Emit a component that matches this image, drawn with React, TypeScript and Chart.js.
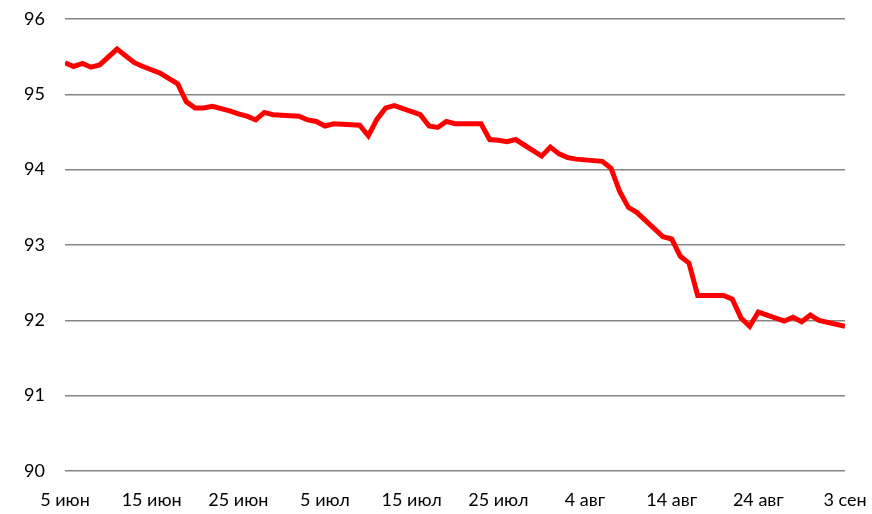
import React, { useEffect, useRef } from "react";
import { Chart, registerables } from "chart.js";

Chart.register(...registerables);

// Day offsets from 5 June
const days = [
  0, 1, 2, 3, 4, 6, 8, 9, 11, 13, 14, 15, 16, 17, 19, 20, 21, 22, 23, 24, 27, 28,
  29, 30, 31, 34, 35, 36, 37, 38, 41, 42, 43, 44, 45, 48, 49, 50, 51, 52, 55, 56,
  57, 58, 59, 62, 63, 64, 65, 66, 69, 70, 71, 72, 73, 76, 77, 78, 79, 80, 83, 84,
  85, 86, 87, 90,
];
const values = [
  95.42, 95.37, 95.41, 95.36, 95.39, 95.6, 95.42, 95.37, 95.28, 95.14, 94.9, 94.82,
  94.82, 94.84, 94.78, 94.74, 94.71, 94.66, 94.76, 94.73, 94.71, 94.66, 94.64, 94.58,
  94.61, 94.59, 94.45, 94.67, 94.82, 94.85, 94.73, 94.58, 94.56, 94.64, 94.61, 94.61,
  94.4, 94.39, 94.37, 94.4, 94.18, 94.3, 94.21, 94.16, 94.14, 94.11, 94.02, 93.71,
  93.5, 93.43, 93.11, 93.08, 92.85, 92.76, 92.33, 92.33, 92.28, 92.03, 91.92, 92.11,
  91.99, 92.04, 91.98, 92.07, 92.0, 91.92,
];
const tickDays = [0, 10, 20, 30, 40, 50, 60, 70, 80, 90];
const tickLabels = [
  "5 июн", "15 июн", "25 июн", "5 июл", "15 июл", "25 июл", "4 авг", "14 авг", "24 авг", "3 сен",
];

const FONT = { family: "Lato, 'Open Sans', sans-serif", size: 18 };

export default function App() {
  const ref = useRef<HTMLCanvasElement | null>(null);
  useEffect(() => {
    if (!ref.current) return;
    const chart = new Chart(ref.current, {
      type: "line",
      data: {
        datasets: [
          {
            data: days.map((d, i) => ({ x: d, y: values[i] })),
            borderColor: "#ff0000",
            borderWidth: 5,
            pointRadius: 0,
            tension: 0,
            fill: false,
          },
        ],
      },
      options: {
        animation: false,
        responsive: false,
        maintainAspectRatio: false,
        layout: { padding: { top: 19, right: 27, left: 0, bottom: 0 } },
        plugins: { legend: { display: false }, tooltip: { enabled: false } },
        scales: {
          x: {
            type: "linear",
            min: 0,
            max: 90,
            afterBuildTicks: (scale: any) => {
              scale.ticks = tickDays.map((v) => ({ value: v }));
            },
            ticks: {
              callback: (v: any) => {
                const i = tickDays.indexOf(Number(v));
                return i >= 0 ? tickLabels[i] : "";
              },
              font: FONT,
              color: "#000",
              padding: 18,
              maxRotation: 0,
              autoSkip: false,
            },
            grid: { display: false, drawTicks: false },
            border: { display: false },
            afterFit: (scale: any) => {
              scale.height = 43;
              scale.paddingLeft = 0;
              scale.paddingRight = 0;
            },
          },
          y: {
            min: 90,
            max: 96,
            ticks: { stepSize: 1, font: FONT, color: "#000", padding: 20 },
            grid: { color: "#858585", lineWidth: 1.5, drawTicks: false },
            border: { display: false },
            afterFit: (scale: any) => {
              scale.width = 65;
              scale.paddingTop = 0;
              scale.paddingBottom = 0;
            },
          },
        },
      },
    });
    return () => chart.destroy();
  }, []);
  return (
    <div style={{ position: "fixed", left: 0, top: 0, width: 872, height: 514, background: "#fff" }}>
      <canvas ref={ref} width={872} height={514} style={{ width: 872, height: 514 }} />
    </div>
  );
}
